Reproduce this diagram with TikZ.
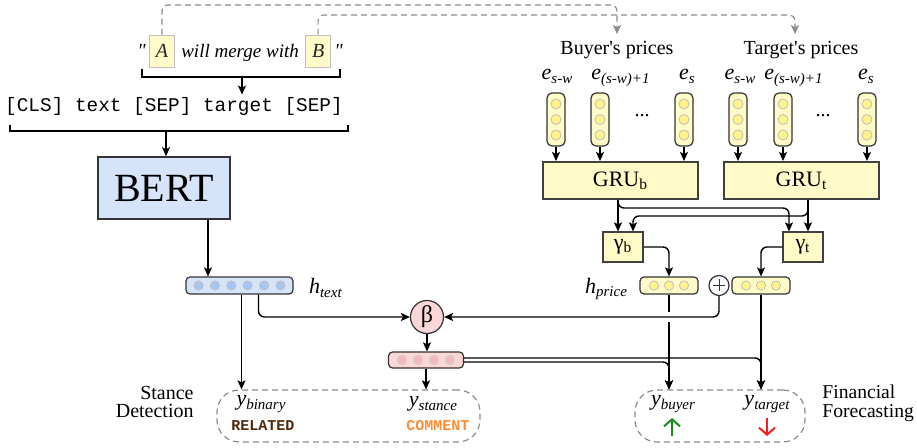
\documentclass[tikz,border=0pt]{standalone}
\usepackage{fontspec}
\setmainfont{Liberation Serif}
\setmonofont{Liberation Mono}
\usetikzlibrary{arrows.meta,positioning}

\definecolor{bertblue}{RGB}{214,228,250}
\definecolor{dotblue}{RGB}{168,196,242}
\definecolor{gruyellow}{RGB}{255,250,200}
\definecolor{dotyellow}{RGB}{255,244,140}
\definecolor{vecpink}{RGB}{250,214,214}
\definecolor{dotpink}{RGB}{243,185,192}
\definecolor{linkgray}{RGB}{140,140,140}
\definecolor{relbrown}{RGB}{80,40,15}
\definecolor{comorange}{RGB}{255,140,50}
\definecolor{upgreen}{RGB}{25,140,25}
\definecolor{downred}{RGB}{250,30,30}

% italic letter with italic subscript
\newcommand{\isub}[2]{\textit{#1}\raisebox{-0.35ex}{\fontsize{7.5}{8}\selectfont\itshape #2}}

\tikzset{
  arr/.style={-{Stealth[length=4.5pt,width=4pt,inset=1pt]}, line width=0.7pt},
  dasharr/.style={-{Stealth[length=4.5pt,width=4pt,inset=1pt]}, linkgray, dash pattern=on 3pt off 2pt, line width=0.6pt, rounded corners=3pt},
  entbox/.style={draw=black!25, fill=gruyellow, minimum width=12.5pt, minimum height=16pt, inner sep=0pt, font=\itshape, text=black!85},
  bertbox/.style={draw=black!80, fill=bertblue, minimum width=66pt, minimum height=31pt, line width=0.8pt, font=\fontsize{20}{24}\selectfont},
  hvec/.style={draw=black!80, rounded corners=2pt, minimum height=8.5pt, inner sep=0pt, line width=0.6pt},
  bluevec/.style={hvec, fill=bertblue, minimum width=53.5pt},
  yelvec/.style={hvec, fill=gruyellow, minimum width=29pt},
  pinkvec/.style={hvec, fill=vecpink, minimum width=37.5pt, minimum height=8pt},
  col/.style={draw=black!80, rounded corners=2.5pt, fill=gruyellow, minimum width=9pt, minimum height=26.5pt, inner sep=0pt, line width=0.6pt},
  dot/.style={circle, inner sep=0pt, minimum size=4.6pt, line width=0.4pt},
  bdot/.style={dot, fill=dotblue, draw=black!25},
  ydot/.style={dot, fill=dotyellow, draw=black!25},
  pdot/.style={dot, fill=dotpink, draw=black!20},
  grubox/.style={draw=black!75, fill=gruyellow, minimum width=77.5pt, minimum height=18.5pt, line width=1pt, font=\fontsize{11}{13}\selectfont},
  gambox/.style={draw=black!75, fill=gruyellow, minimum width=20pt, minimum height=15pt, line width=0.6pt, font=\fontsize{11}{13}\selectfont},
  oplus/.style={circle, draw=black!80, minimum size=10pt, inner sep=0pt, line width=0.6pt,
    path picture={\draw[line width=0.5pt] ([xshift=-3pt]path picture bounding box.center) -- ([xshift=3pt]path picture bounding box.center)
      ([yshift=-3pt]path picture bounding box.center) -- ([yshift=3pt]path picture bounding box.center);}},
  outbox/.style={draw=linkgray, dash pattern=on 3pt off 2pt, rounded corners=11pt, minimum height=26pt, line width=0.6pt},
  lbl/.style={font=\fontsize{11}{13}\selectfont},
  tag/.style={font=\ttfamily\bfseries\fontsize{7.5}{9}\selectfont}
}

\begin{document}
\begin{tikzpicture}[x=0.5pt, y=-0.5pt, font=\fontsize{10}{12}\selectfont]
    \useasboundingbox (0,0) rectangle (917,448);

    % Input sentence
    \node[entbox] (boxa) at (162,51) {A};
    \node[anchor=base west, inner sep=3pt, font=\itshape\fontsize{9.5}{11}\selectfont] (merge) at (boxa.base east) {will merge with};
    \node[entbox, anchor=base west] (boxb) at (merge.base east) {B};
    \node[anchor=base east, inner sep=1.5pt, font=\itshape] (qa) at (boxa.base west) {\textquotedbl};
    \node[anchor=base west, inner sep=1.5pt, font=\itshape] (qb) at (boxb.base east) {\textquotedbl};
    \draw[line width=0.7pt] (142,69) -- (142,77) -- (340,77) -- (340,69);
    \coordinate (brone) at (242,77);

    \node[inner ysep=1pt, font=\ttfamily\fontsize{9.7}{12}\selectfont] (tokens) at (174,106) {[CLS] text [SEP] target [SEP]};
    \draw[arr] (brone) -- (brone |- tokens.north);
    \draw[line width=0.7pt] (10,125) -- (10,131) -- (348,131) -- (348,125);
    \coordinate (brtwo) at (166,131);

    % Stance side
    \node[bertbox] (bert) at (164,188) {BERT};
    \draw[arr] (brtwo) -- (brtwo |- bert.north);

    \node[bluevec] (htext) at (239.5,285.5) {};
    \foreach \i in {0,...,5}
        \node[bdot] (ht\i) at ([xshift=\i*8.2pt-20.5pt]htext.center) {};
    \node[lbl, anchor=west] (htextlbl) at (302,288) {\isub{h}{text}};
    \coordinate (bertout) at ([xshift=22pt]bert.south);
    \draw[arr] (bertout) -- (bertout |- htext.north);

    \node[circle, draw=black!80, fill=vecpink, minimum size=16.5pt, inner sep=0pt, line width=0.6pt, font=\fontsize{12}{14}\selectfont] (beta) at (427,317) {β};
    \node[pinkvec] (pv) at (426,360) {};
    \foreach \i in {0,...,3}
        \node[pdot] (pv\i) at ([xshift=\i*8pt-12pt]pv.center) {};

    \node[outbox, minimum width=131.5pt] (stancebox) at (348.5,416) {};
    \node[lbl] (ybin) at (261,404) {\isub{y}{binary}};
    \node[tag, text=relbrown] (related) at (263,426) {RELATED};
    \node[lbl] (ystance) at (433,404) {\isub{y}{stance}};
    \node[tag, text=comorange] (comment) at (438,426) {COMMENT};
    \node[align=right, anchor=east, inner xsep=1pt, font=\fontsize{10}{9}\selectfont] (stance) at (196,402) {Stance\\Detection};

    \coordinate (htone) at ([xshift=1pt]htext.south);
    \coordinate (httwo) at ([xshift=9.5pt]htext.south);
    \draw[arr] (htone) -- (htone |- stancebox.north);
    \draw[arr, rounded corners=3pt] (httwo) |- (beta.west);
    \draw[arr] (beta.south) -- (beta.south |- pv.north);
    \draw[arr] (pv.south) -- (pv.south |- stancebox.north);

    % Price side
    \node (buyer) at (617,50) {Buyer{\textquotesingle}s prices};
    \node (target) at (801,50) {Target{\textquotesingle}s prices};
    \node[lbl, anchor=base] (ebsw) at (557,80) {\isub{e}{s-w}};
    \node[lbl, anchor=base west, inner sep=0pt] (ebnext) at (591,80) {\isub{e}{(s-w)+1}};
    \node[lbl, anchor=base] (ebs) at (687,80) {\isub{e}{s}};
    \node[lbl, anchor=base] (etsw) at (740,80) {\isub{e}{s-w}};
    \node[lbl, anchor=base west, inner sep=0pt] (etnext) at (764,80) {\isub{e}{(s-w)+1}};
    \node[lbl, anchor=base] (ets) at (866,80) {\isub{e}{s}};

    \foreach \n/\x in {bc1/556,bc2/600,bc3/684,tc1/738,tc2/783,tc3/867} {
        \node[col] (\n) at (\x,119.5) {};
        \foreach \k in {1,2,3}
            \node[ydot, minimum size=5pt] (\n d\k) at ([yshift=(\k-2)*7.75pt]\n.center) {};
    }
    \node (bdots) at (642,116) {...};
    \node (tdots) at (823,116) {...};

    \node[grubox] (grub) at (620.5,180.5) {GRU\textsubscript{b}};
    \node[grubox] (grut) at (801.5,180.5) {GRU\textsubscript{t}};
    \foreach \n in {bc1,bc2,bc3}
        \draw[arr] (\n.south) -- (\n.south |- grub.north);
    \foreach \n in {tc1,tc2,tc3}
        \draw[arr] (\n.south) -- (\n.south |- grut.north);

    \node[gambox] (gb) at (623,247) {γ\textsubscript{b}};
    \node[gambox] (gt) at (803,247) {γ\textsubscript{t}};
    \coordinate (gbin1) at ([xshift=-2.5pt]gb.north);
    \coordinate (gbin2) at ([xshift=5pt]gb.north);
    \coordinate (gtin1) at ([xshift=-7pt]gt.north);
    \coordinate (gtin2) at ([xshift=2.5pt]gt.north);
    \coordinate (sepone) at (0,208);
    \coordinate (septwo) at (0,216);
    \draw[arr] (grub.south -| gbin1) -- (gbin1);
    \draw[arr, rounded corners=3pt] (grub.south -| gbin1) |- (gtin1 |- sepone) -- (gtin1);
    \draw[arr] (grut.south -| gtin2) -- (gtin2);
    \draw[arr, rounded corners=3pt] (grut.south -| gtin2) |- (gbin2 |- septwo) -- (gbin2);

    \node[yelvec] (hpb) at (669,285.5) {};
    \node[oplus] (op) at (719,285.5) {};
    \node[yelvec] (hpt) at (761,285.5) {};
    \foreach \i in {1,2,3} {
        \node[ydot] (hpb\i) at ([xshift=(\i-2)*7.5pt]hpb.center) {};
        \node[ydot] (hpt\i) at ([xshift=(\i-2)*7.5pt]hpt.center) {};
    }
    \node[lbl, anchor=east] (hplbl) at (634,289) {\isub{h}{price}};
    \draw[arr, rounded corners=3pt] (gb.east) -| (hpb.north);
    \draw[arr, rounded corners=3pt] (gt.west) -| (hpt.north);

    \node[outbox, minimum width=85pt] (finbox) at (720,416) {};
    \node[lbl] (ybuyer) at (673,404) {\isub{y}{buyer}};
    \node[lbl] (ytarget) at (767,404) {\isub{y}{target}};
    \node[align=left, anchor=west, inner xsep=1pt, font=\fontsize{9.8}{9.5}\selectfont] (fin) at (820,403) {Financial\\Forecasting};
    \draw[-{Straight Barb[length=3.5pt,width=8pt]}, upgreen, line width=1pt] (672,436) -- (672,418);
    \draw[-{Straight Barb[length=3.5pt,width=8pt]}, downred, line width=1pt] (767,418) -- (767,436);

    % outputs to forecasting
    \draw[arr] (hpb.south) -- (hpb.south |- finbox.north);
    \draw[arr] (hpt.south) -- (hpt.south |- finbox.north);
    \coordinate (pvup) at ([yshift=1pt]pv.east);
    \coordinate (pvdown) at ([yshift=-1pt]pv.east);
    \draw[arr, rounded corners=3pt] (pvdown) -| (hpb.south |- finbox.north);
    \draw[arr, rounded corners=3pt] (pvup) -| (hpt.south |- finbox.north);
    \coordinate (cross) at (hpb.south |- beta.east);
    \draw[white, line width=3pt] ([yshift=2.5pt]cross) -- ([yshift=-2.5pt]cross);
    \draw[arr, rounded corners=3pt] (op.south) |- (beta.east);

    % entity links
    \coordinate (lineone) at (0,5);
    \coordinate (linetwo) at (0,15);
    \coordinate (tgtin) at ([xshift=-3pt]target.north);
    \draw[dasharr] (boxa.north) |- (buyer.north |- lineone) -- (buyer.north);
    \draw[dasharr] (boxb.north) |- (tgtin |- linetwo) -- (tgtin);
\end{tikzpicture}
\end{document}
